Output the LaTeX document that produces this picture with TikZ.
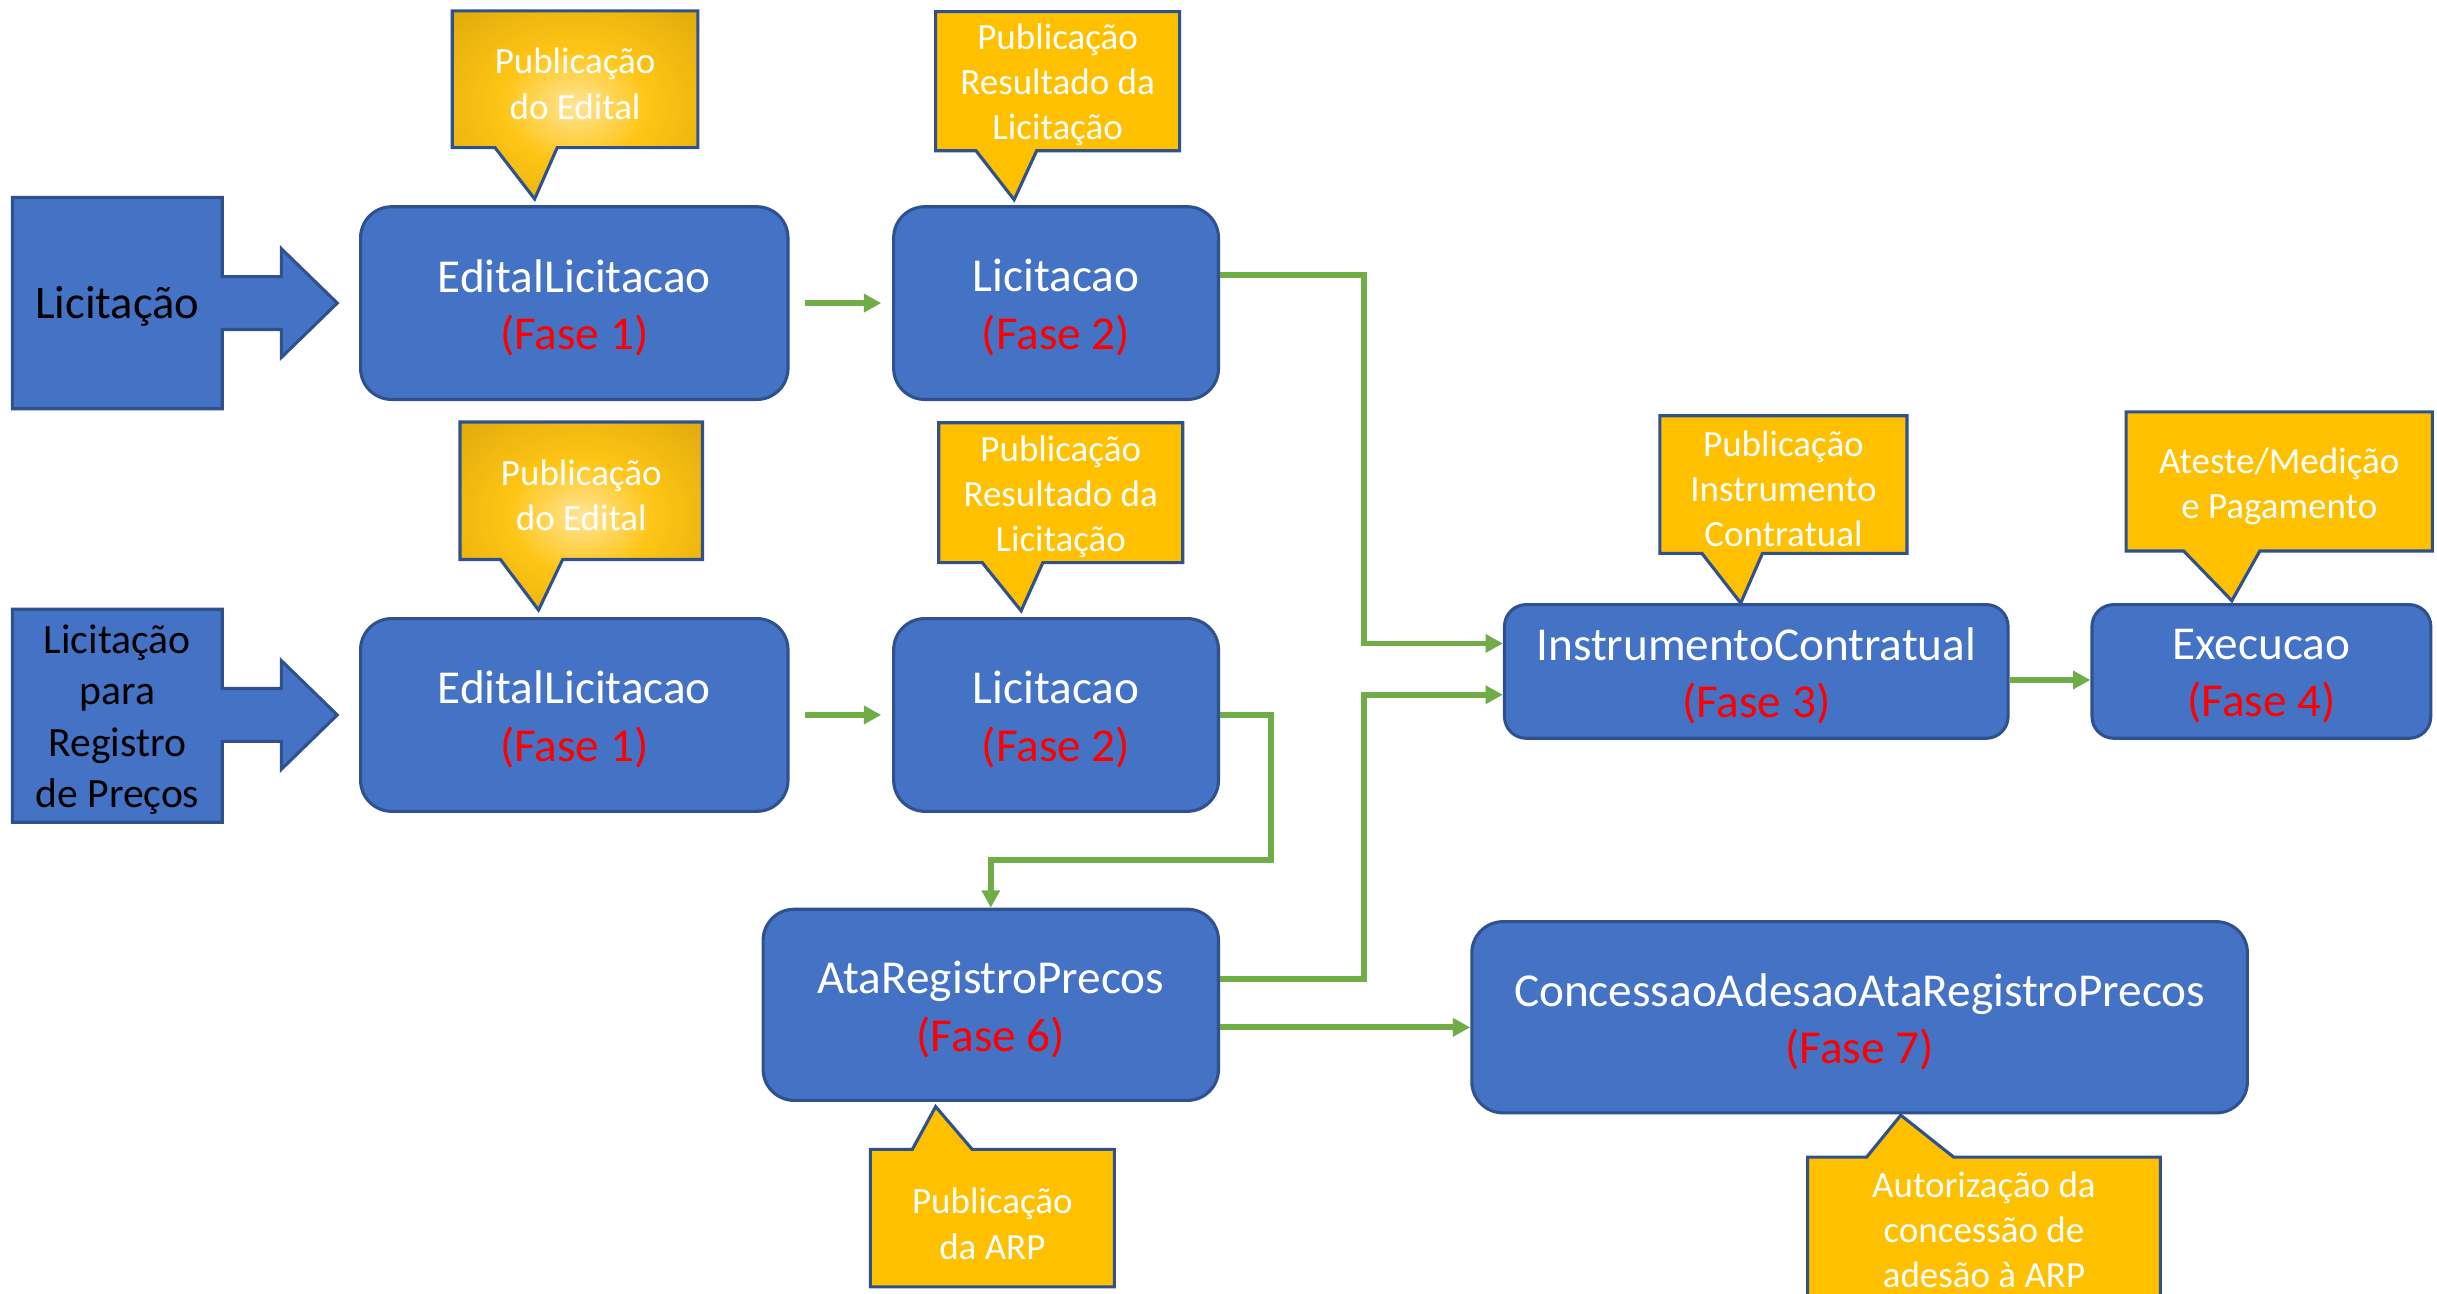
\documentclass[tikz,border=0pt]{standalone}
\usepackage{fontspec}
\setmainfont{Carlito}
\usetikzlibrary{arrows.meta}
\definecolor{boxblue}{HTML}{4472C4}
\definecolor{bordblue}{HTML}{2F528F}
\definecolor{calyellow}{HTML}{FFC000}
\definecolor{conngreen}{HTML}{70AD47}
\definecolor{fasered}{HTML}{FF0000}
\definecolor{goldA}{HTML}{FFE59A}
\definecolor{goldB}{HTML}{FFC515}
\definecolor{goldC}{HTML}{D9A40A}
\definecolor{goldE}{HTML}{B08400}
\definecolor{goldD}{HTML}{8F6B00}
\pgfdeclareradialshading{goldglow}{\pgfpoint{0bp}{0bp}}{color(0bp)=(goldA); color(15bp)=(goldB); color(40bp)=(goldC); color(55bp)=(goldE); color(71bp)=(goldD)}
\newcommand\mainfs{\fontsize{15.2}{18.5}\selectfont}
\newcommand\calfs{\fontsize{11.9}{14.5}\selectfont}
\newcommand\leftfs{\fontsize{15}{18}\selectfont}
\newcommand\leftfsb{\fontsize{13.4}{16.5}\selectfont}
\begin{document}
\begin{tikzpicture}[x=0.5pt,y=-0.5pt,
  phase/.style={draw=bordblue, fill=boxblue, line width=1pt, rounded corners=10pt,
    text=white, align=center, font=\mainfs, inner sep=0pt},
  phasesm/.style={phase, rounded corners=7pt},
  callbox/.style={draw=bordblue, fill=calyellow, line width=1pt, line join=miter},
  goldbox/.style={draw=bordblue, shading=goldglow, line width=1pt, line join=miter},
  ctext/.style={text=white, align=center, font=\calfs, inner sep=0pt, yshift=-1.2pt},
  arrowbox/.style={draw=bordblue, fill=boxblue, line width=1pt, line join=miter},
  ltext/.style={text=black, align=center, inner sep=0pt, yshift=-1pt},
  ptext/.style={text=white, align=center, font=\mainfs, inner sep=0pt, yshift=-1.5pt},
  conn/.style={draw=conngreen, line width=1.9pt, line join=miter,
    -{Triangle[length=5.6pt,width=5.7pt]}}
]
\useasboundingbox (0,0) rectangle (1568,832);
\fill[white] (0,0) rectangle (1568,832);
\clip (0,0) rectangle (1568,832);

% left arrow boxes
\draw[arrowbox] (8,127) -- (143,127) -- (143,178) -- (181,178) -- (181,160) -- (217,195)
  -- (181,230) -- (181,212) -- (143,212) -- (143,263) -- (8,263) -- cycle;
\node[ltext, font=\leftfs] (lic) at (75.5,195) {Licitação};
\draw[arrowbox] (8,392) -- (143,392) -- (143,443) -- (181,443) -- (181,425) -- (217,460)
  -- (181,495) -- (181,477) -- (143,477) -- (143,529) -- (8,529) -- cycle;
\node[ltext, font=\leftfsb] (lrp) at (75.5,461) {Licitação\\para\\Registro\\de Preços};

% phase boxes
\node[phase, minimum width=137.5pt, minimum height=62pt] (e1) at (369.5,195) {};
\node[ptext] (e1t) at (e1) {EditalLicitacao\\\textcolor{fasered}{(Fase 1)}};
\node[phase, minimum width=104.5pt, minimum height=62pt] (l1) at (679.5,195) {};
\node[ptext] (l1t) at (l1) {Licitacao\\\textcolor{fasered}{(Fase 2)}};
\node[phase, minimum width=137.5pt, minimum height=62pt] (e2) at (369.5,460) {};
\node[ptext] (e2t) at (e2) {EditalLicitacao\\\textcolor{fasered}{(Fase 1)}};
\node[phase, minimum width=104.5pt, minimum height=62pt] (l2) at (679.5,460) {};
\node[ptext] (l2t) at (l2) {Licitacao\\\textcolor{fasered}{(Fase 2)}};
\node[phasesm, minimum width=162pt, minimum height=43pt] (ic) at (1130,432) {};
\node[ptext] (ict) at (ic) {InstrumentoContratual\\\textcolor{fasered}{(Fase 3)}};
\node[phasesm, minimum width=109pt, minimum height=43pt] (ex) at (1455,432) {};
\node[ptext] (ext) at (ex) {Execucao\\\textcolor{fasered}{(Fase 4)}};
\node[phase, minimum width=146.5pt, minimum height=61.5pt] (ata) at (637.5,646.5) {};
\node[ptext] (atat) at (ata) {AtaRegistroPrecos\\\textcolor{fasered}{(Fase 6)}};
\node[phase, minimum width=249.5pt, minimum height=61.5pt] (cap) at (1196.5,654.5) {};
\node[ptext] (capt) at (cap) {ConcessaoAdesaoAtaRegistroPrecos\\\textcolor{fasered}{(Fase 7)}};

% callouts
\shadedraw[goldbox] (291,7) -- (449,7) -- (449,95) -- (358.5,95) -- (344,128) -- (318.5,95) -- (291,95) -- cycle;
\node[ctext] (c1) at (370,51.5) {Publicação\\do Edital};
\shadedraw[goldbox] (296,271.5) -- (452,271.5) -- (452,360) -- (362,360) -- (346.5,392.5) -- (322,360) -- (296,360) -- cycle;
\node[ctext] (c2) at (374,316) {Publicação\\do Edital};
\draw[callbox] (602,7.5) -- (759,7.5) -- (759,97) -- (667,97) -- (652.5,128.5) -- (628,97) -- (602,97) -- cycle;
\node[ctext] (c3) at (680.5,52) {Publicação\\Resultado da\\Licitação};
\draw[callbox] (604,272) -- (761,272) -- (761,362) -- (671,362) -- (657,393) -- (632,362) -- (604,362) -- cycle;
\node[ctext] (c4) at (682.5,317) {Publicação\\Resultado da\\Licitação};
\draw[callbox] (1068,267.5) -- (1227,267.5) -- (1227,356) -- (1134,356) -- (1120,388) -- (1095,356) -- (1068,356) -- cycle;
\node[ctext] (c5) at (1147.5,312) {Publicação\\Instrumento\\Contratual};
\draw[callbox] (1368,265) -- (1565,265) -- (1565,354.5) -- (1454,354.5) -- (1436,386.5) -- (1405,354.5) -- (1368,354.5) -- cycle;
\node[ctext] (c6) at (1466.5,310.5) {Ateste/Medição\\e Pagamento};
\draw[callbox] (560,739.5) -- (587,739.5) -- (602,712) -- (625.5,739.5) -- (717,739.5) -- (717,828) -- (560,828) -- cycle;
\node[ctext] (c7) at (638.5,785) {Publicação\\da ARP};
\draw[callbox] (1163,744.5) -- (1201,744.5) -- (1223,717.5) -- (1257,744.5) -- (1390,744.5) -- (1390,840) -- (1163,840) -- cycle;
\node[ctext] (c8) at (1276.5,789) {Autorização da\\concessão de\\adesão à ARP};

% connectors
\draw[conn, shorten <=5pt, shorten >=3.5pt] (e1) -- (l1);
\draw[conn, shorten <=5pt, shorten >=3.5pt] (e2) -- (l2);
\draw[conn] ([yshift=9pt]l1.east) -- (877.5,177) -- (877.5,414) -- ([yshift=9pt]ic.west);
\draw[conn] (l2.east) -- (818,460) -- (818,553.5) -| (ata.north);
\draw[conn] ([yshift=8.25pt]ata.east) -- (877.5,630) -- (877.5,447) -- ([yshift=-7.5pt]ic.west);
\coordinate (a2) at ([yshift=-7.25pt]ata.east);
\draw[conn] (a2) -- (a2 -| cap.west);
\coordinate (i2) at ([yshift=-2.75pt]ic.east);
\draw[conn] (i2) -- (i2 -| ex.west);
\end{tikzpicture}
\end{document}
